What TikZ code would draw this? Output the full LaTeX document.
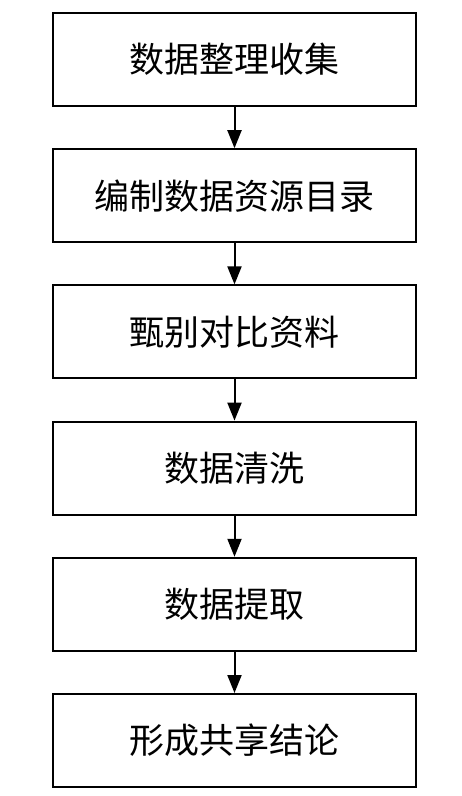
\documentclass[tikz,border=0pt]{standalone}
\usepackage{fontspec}
\newfontfamily\cjk{Noto Sans CJK SC}
\usetikzlibrary{arrows.meta}
\begin{document}
\begin{tikzpicture}[x=1pt,y=-1pt,
  stepbox/.style={draw=black, line width=2pt, minimum width=363pt, minimum height=93pt, inner sep=0pt, font=\cjk\fontsize{35}{38}\selectfont, anchor=north},
  flow/.style={line width=2pt, -{Triangle[length=18pt,width=14pt]}}]
\useasboundingbox (0,0) rectangle (461,796);
\node[stepbox] (b1) at (234.5,12) {数据整理收集};
\node[stepbox] (b2) at (234.5,148.2) {编制数据资源目录};
\node[stepbox] (b3) at (234.5,284.4) {甄别对比资料};
\node[stepbox] (b4) at (234.5,420.6) {数据清洗};
\node[stepbox] (b5) at (234.5,556.8) {数据提取};
\node[stepbox] (b6) at (234.5,693) {形成共享结论};
\draw[flow] (b1) -- (b2);
\draw[flow] (b2) -- (b3);
\draw[flow] (b3) -- (b4);
\draw[flow] (b4) -- (b5);
\draw[flow] (b5) -- (b6);
\end{tikzpicture}
\end{document}
